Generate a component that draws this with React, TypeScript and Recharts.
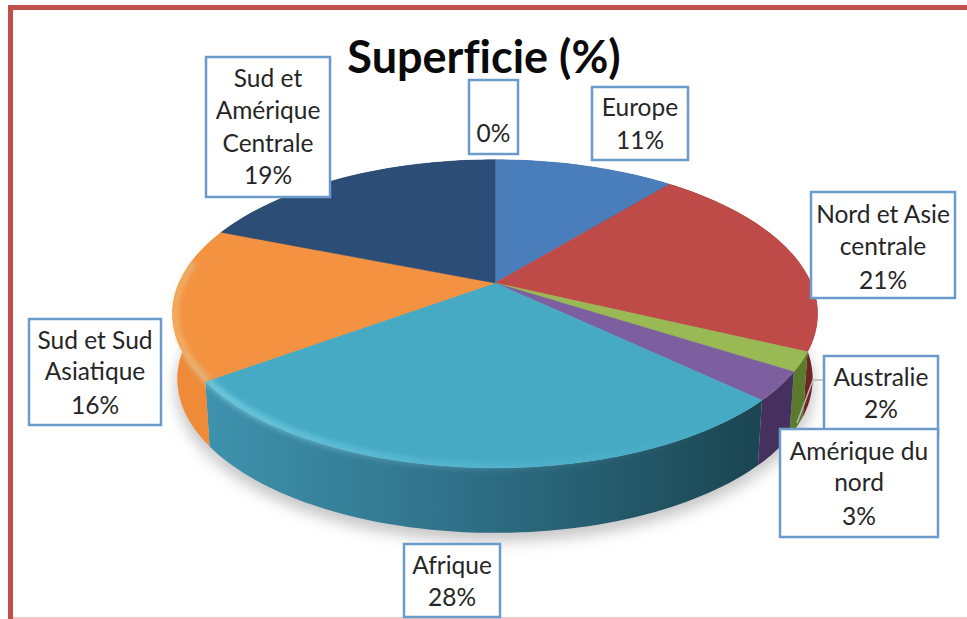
import React from "react";
import { PieChart, Pie, Cell } from "recharts";

const NAMES = ["Europe", "Nord et Asie centrale", "Australie", "Amérique du nord", "Afrique", "Sud et Sud Asiatique", "Sud et Amérique Centrale", ""];
const VALUES = [11, 21, 2, 3, 28, 16, 19, 0];
const COLORS = ["#4a7ebb", "#be4b48", "#98b954", "#7d5fa0", "#46aac5", "#f39240", "#2c4d75", "#2c4d75"];
const WALL_LEFT = ["#3a6394", "#a03f3d", "#74903c", "#5a4378", "#3f93ae", "#ee8a38", "#223c5c", "#223c5c"];
const WALL_MID = ["#2f5078", "#8c3634", "#64802f", "#4c3866", "#2f7087", "#e08034", "#1c3350", "#1c3350"];
const WALL_RIGHT = ["#2a4669", "#6e2524", "#5a7a2c", "#46305f", "#1b4652", "#b86a2c", "#182c46", "#182c46"];
const LABEL_LINES = [
  ["Europe", "11%"],
  ["Nord et Asie", "centrale", "21%"],
  ["Australie", "2%"],
  ["Amérique du", "nord", "3%"],
  ["Afrique", "28%"],
  ["Sud et Sud", "Asiatique", "16%"],
  ["Sud et", "Amérique", "Centrale", "19%"],
  ["", "0%"],
];
const DATA = NAMES.map((name, i) => ({ name, value: VALUES[i] }));

// layout of the label boxes: left, top, width, height, centre y of each line
const BOXES = [
  { x: 592, y: 87, w: 96, h: 73, rows: [108, 141] },
  { x: 811, y: 192, w: 144, h: 106, rows: [215, 247, 281] },
  { x: 824, y: 356, w: 114, h: 80, rows: [378, 410] },
  { x: 780, y: 429, w: 158, h: 108, rows: [452, 483, 517] },
  { x: 404, y: 544, w: 96, h: 73, rows: [566, 598] },
  { x: 29, y: 319, w: 132, h: 106, rows: [341, 372, 406] },
  { x: 206, y: 57, w: 124, h: 140, rows: [79, 111, 144, 176] },
  { x: 469, y: 80, w: 49, h: 74, rows: [100, 134] },
];

const FONT = "Lato, 'Open Sans', sans-serif";
const K = 0.2;
const FLAT = 0.468;
const DEPTH = 65;
const PIE_X = 495;
const PIE_Y = 283;
const RADIUS = 316;

type P = { x: number; y: number; v: number };

// perspective projection of a point of the pie's circle
function project(cx: number, cy: number, r: number, angleDeg: number, drop = 0, squeeze = 1): P {
  const a = (angleDeg * Math.PI) / 180;
  const u = Math.cos(a);
  const v = Math.sin(a);
  const w = 1 + K * v;
  return { x: cx + (r * squeeze * u) / w, y: cy - (r * FLAT * v) / w + drop, v };
}

function arc(cx: number, cy: number, r: number, start: number, end: number, drop = 0, squeeze = 1): P[] {
  const n = Math.max(2, Math.ceil(Math.abs(end - start) / 1.5));
  const pts: P[] = [];
  for (let i = 0; i <= n; i++) pts.push(project(cx, cy, r, start + ((end - start) * i) / n, drop, squeeze));
  return pts;
}

const toPath = (pts: { x: number; y: number }[]) =>
  pts.map((p, i) => `${i ? "L" : "M"}${p.x.toFixed(1)} ${p.y.toFixed(1)}`).join(" ");

function TopFace(props: any) {
  const { cx, cy, outerRadius, startAngle, endAngle, fill } = props;
  if (startAngle === endAngle) return null;
  const pts = arc(cx, cy, outerRadius, startAngle, endAngle);
  const rim = arc(cx, cy, outerRadius * 0.992, startAngle, endAngle).filter((p) => p.v < 0.15);
  return (
    <g>
      <path d={`M${cx} ${cy} ${toPath(pts).replace("M", "L")} Z`} fill={fill} stroke={fill} strokeWidth={0.5} />
      {rim.length > 1 && (
        <path d={toPath(rim)} fill="none" stroke="url(#rimLight)" strokeWidth={8} filter="url(#soft)" />
      )}
    </g>
  );
}

function Wall(props: any) {
  const { cx, cy, outerRadius, startAngle, endAngle, index } = props;
  if (startAngle === endAngle) return null;
  const upper = arc(cx, cy, outerRadius, startAngle, endAngle);
  const lower = arc(cx, cy, outerRadius, startAngle, endAngle, DEPTH, 0.985).reverse();
  return <path d={`${toPath(upper)} ${toPath(lower).replace("M", "L")} Z`} fill={`url(#wall${index})`} />;
}

function Shadow(props: any) {
  const { cx, cy, outerRadius, startAngle, endAngle } = props;
  if (startAngle === endAngle) return null;
  const lower = arc(cx, cy, outerRadius, startAngle, endAngle, DEPTH + 9, 0.99);
  return <path d={`M${cx} ${cy + DEPTH} ${toPath(lower).replace("M", "L")} Z`} fill="#9a9a9a" fillOpacity={0.55} filter="url(#shadowBlur)" />;
}

function BoxLabel(props: any) {
  const { index } = props;
  const box = BOXES[index];
  const lines = LABEL_LINES[index];
  return (
    <g>
      {index === 2 && (
        <polyline points="824,380 813,380 797,423" fill="none" stroke="#b8b8b8" strokeWidth={1.5} />
      )}
      <rect x={box.x} y={box.y} width={box.w} height={box.h} fill="#ffffff" stroke="#6b9bcb" strokeWidth={2.5} />
      {lines.map((line, i) => (
        <text
          key={i}
          x={box.x + box.w / 2}
          y={box.rows[i] + 8}
          textAnchor="middle"
          fontFamily={FONT}
          fontSize={24.5}
          fill="#262626"
        >
          {line}
        </text>
      ))}
    </g>
  );
}

export default function App() {
  const common = {
    data: DATA,
    dataKey: "value",
    nameKey: "name",
    cx: PIE_X,
    cy: PIE_Y,
    innerRadius: 0,
    outerRadius: RADIUS,
    startAngle: 90,
    endAngle: -270,
    stroke: "none",
    isAnimationActive: false,
  };
  return (
    <div style={{ position: "fixed", left: 0, top: 0, width: 967, height: 619, background: "#ffffff", overflow: "hidden" }}>
      <div style={{ position: "absolute", left: 8, top: 5, width: 967, height: 5, background: "#c0504d" }} />
      <div style={{ position: "absolute", left: 8, top: 5, width: 5, height: 614, background: "#c0504d" }} />
      <div style={{ position: "absolute", left: 13, top: 617, width: 954, height: 2, background: "#f6c8c6" }} />
      <div style={{ position: "absolute", left: 0, top: 0 }}>
        <PieChart width={967} height={619} margin={{ top: 0, right: 0, bottom: 0, left: 0 }}>
          <defs>
            <filter id="soft" x="-20%" y="-20%" width="140%" height="140%">
              <feGaussianBlur stdDeviation="2.5" />
            </filter>
            <filter id="shadowBlur" x="-20%" y="-20%" width="140%" height="140%">
              <feGaussianBlur stdDeviation="7" />
            </filter>
            <linearGradient id="rimLight" gradientUnits="userSpaceOnUse" x1="170" y1="0" x2="720" y2="0">
              <stop offset="0" stopColor="#ffe0a0" stopOpacity={0.3} />
              <stop offset="0.1" stopColor="#a0f0ff" stopOpacity={0.4} />
              <stop offset="0.45" stopColor="#a0f0ff" stopOpacity={0.16} />
              <stop offset="1" stopColor="#a0f0ff" stopOpacity={0} />
            </linearGradient>
            {VALUES.map((_, i) => (
              <linearGradient key={i} id={`wall${i}`} gradientUnits="userSpaceOnUse" x1="170" y1="0" x2="820" y2="0">
                <stop offset="0.05" stopColor={WALL_LEFT[i]} />
                <stop offset="0.45" stopColor={WALL_MID[i]} />
                <stop offset="0.9" stopColor={WALL_RIGHT[i]} />
              </linearGradient>
            ))}
          </defs>
          <Pie {...common} shape={Shadow} />
          <Pie {...common} shape={Wall} />
          <Pie {...common} shape={TopFace} label={BoxLabel} labelLine={false}>
            {VALUES.map((_, i) => (
              <Cell key={i} fill={COLORS[i]} />
            ))}
          </Pie>
          <text x={484} y={73} textAnchor="middle" fontFamily={FONT} fontWeight={700} fontSize={45} fill="#0a0a0a" style={{ fontVariantLigatures: "none" }}>
            Superficie (%)
          </text>
        </PieChart>
      </div>
    </div>
  );
}
